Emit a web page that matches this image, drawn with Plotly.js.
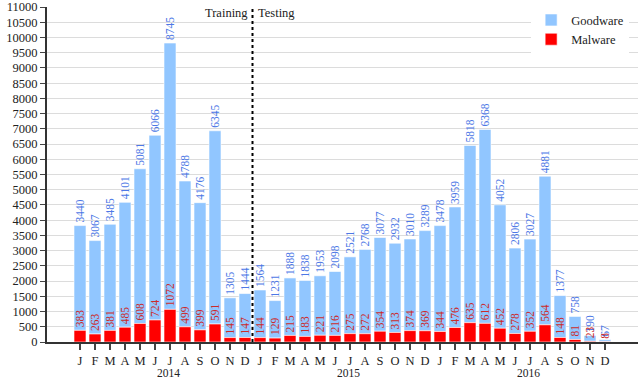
<!DOCTYPE html>
<html>
<head>
<meta charset="utf-8">
<script src="https://cdn.plot.ly/plotly-3.0.1.min.js"></script>
<style>
  html, body { margin: 0; padding: 0; background: #fff; }
  #chart { width: 640px; height: 381px; }
</style>
</head>
<body>
<div id="chart"></div>
<script>
// ---- Data ----
var monthLabels = ["J","F","M","A","M","J","J","A","S","O","N","D",
                   "J","F","M","A","M","J","J","A","S","O","N","D",
                   "J","F","M","A","M","J","J","A","S","O","N","D"];
var years = ["2014", "2015", "2016"];
var goodware = [3440, 3067, 3485, 4101, 5081, 6066, 8745, 4788, 4176, 6345, 1305, 1444,
                1564, 1231, 1888, 1838, 1953, 2098, 2521, 2768, 3077, 2932, 3010, 3289,
                3478, 3959, 5818, 6368, 4052, 2806, 3027, 4881, 1377, 758, 190, 67];
var malware  = [383, 263, 381, 485, 608, 724, 1072, 499, 399, 591, 145, 147,
                144, 129, 215, 183, 221, 216, 275, 272, 354, 313, 374, 369,
                344, 476, 635, 612, 452, 278, 352, 564, 148, 81, 23, 8];
var splitLabels = ["Training", "Testing"];

// ---- Build ----
var idx = monthLabels.map(function (_, i) { return i; });
var serif = "'Liberation Serif', 'DejaVu Serif', serif";
var goodColor = "#91c6ff", malColor = "#ff0000";
var goodText = "#4d78e6", malText = "#cc2a2a";

var traces = [
  { type: "bar", name: "Goodware", x: idx, y: goodware, base: malware,
    text: goodware.map(String), textposition: "outside", textangle: -90,
    constraintext: "none", cliponaxis: false,
    outsidetextfont: { family: serif, size: 11.5, color: goodText },
    marker: { color: goodColor, line: { color: "#ffffff", width: 0.6 } }, hoverinfo: "y" },
  { type: "bar", name: "Malware", x: idx, y: malware,
    text: malware.map(String), textposition: "outside", textangle: -90,
    constraintext: "none", cliponaxis: false,
    outsidetextfont: { family: serif, size: 11.5, color: malText },
    marker: { color: malColor, line: { color: "#ffffff", width: 0.6 } }, hoverinfo: "y" }
];

var annotations = [];
years.forEach(function (yr, k) {
  annotations.push({ x: 12 * k + 5.9, y: 0, xref: "x", yref: "paper", text: yr,
    showarrow: false, xanchor: "center", yanchor: "middle", yshift: -31, borderpad: 0,
    font: { family: serif, size: 11.5, color: "#222" } });
});
annotations.push({ x: 11.5, y: 1, xref: "x", yref: "paper", text: splitLabels[0],
  showarrow: false, xanchor: "right", yanchor: "middle", xshift: -3, yshift: -6,
  font: { family: serif, size: 12.5, color: "#222" } });
annotations.push({ x: 11.5, y: 1, xref: "x", yref: "paper", text: splitLabels[1],
  showarrow: false, xanchor: "left", yanchor: "middle", xshift: 3, yshift: -6,
  font: { family: serif, size: 12.5, color: "#222" } });

var layout = {
  width: 640, height: 381,
  margin: { l: 47, r: 2, t: 7, b: 39 },
  paper_bgcolor: "#fff", plot_bgcolor: "#fff",
  barmode: "overlay", bargap: 0.2,
  font: { family: serif, size: 12, color: "#222" },
  xaxis: {
    range: [-2.2, 37.2], tickmode: "array", tickvals: idx, ticktext: monthLabels,
    showgrid: false, zeroline: false, showline: true, linecolor: "#333", linewidth: 2,
    ticks: "outside", ticklen: 6, tickwidth: 1.5, tickcolor: "#444",
    tickfont: { family: serif, size: 12.5, color: "#222" }
  },
  yaxis: {
    range: [0, 11000], dtick: 500, tick0: 0, exponentformat: "none", tickformat: "d",
    ticklabeloverflow: "allow",
    showgrid: true, gridcolor: "#dcdcdc", gridwidth: 1,
    zeroline: false, showline: true, linecolor: "#333", linewidth: 2,
    ticks: "outside", ticklen: 5, tickwidth: 1, tickcolor: "#444",
    tickfont: { family: serif, size: 12.5, color: "#222" }
  },
  shapes: [{ type: "line", xref: "x", yref: "paper", x0: 11.5, x1: 11.5, y0: 0, y1: 1,
             line: { color: "#000", width: 2, dash: "dot" } }],
  legend: {
    x: 0.985, xanchor: "right", y: 1.005, yanchor: "top",
    bgcolor: "#ffffff", borderwidth: 0,
    font: { family: serif, size: 12.5, color: "#222" }, tracegroupgap: 0
  },
  annotations: annotations,
  showlegend: true
};

Plotly.newPlot("chart", traces, layout, { displayModeBar: false, staticPlot: true });
</script>
</body>
</html>
